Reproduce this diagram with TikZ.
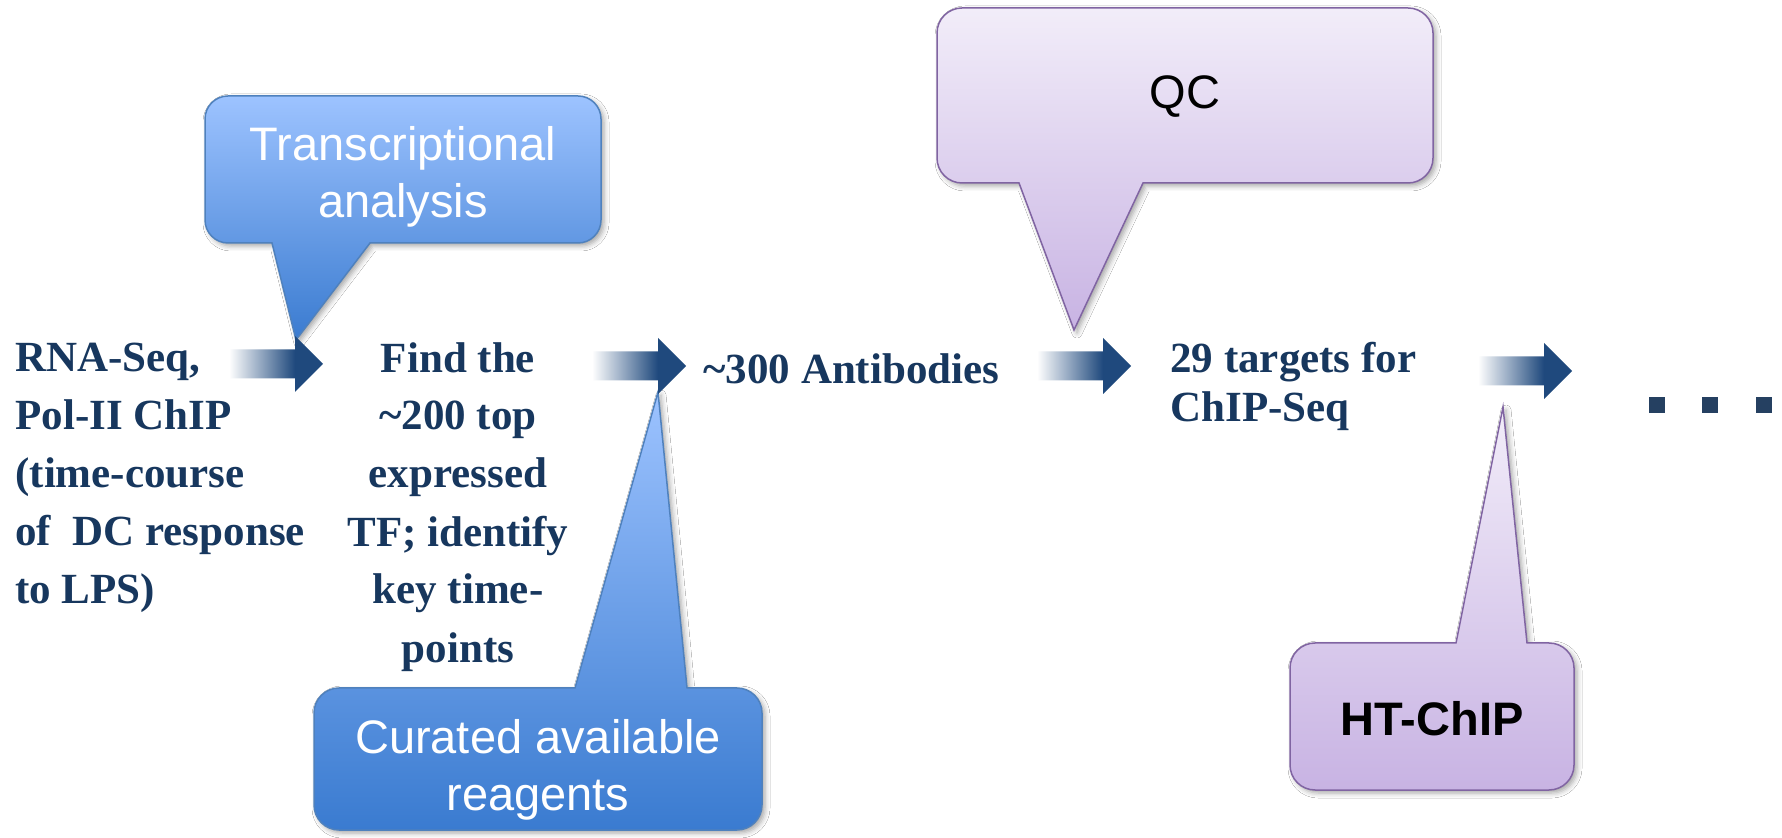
\documentclass[tikz,border=0pt]{standalone}
\usepackage{fontspec}
\setmainfont{Liberation Serif}
\setsansfont{Liberation Sans}
\usetikzlibrary{shadows.blur}

\definecolor{navytext}{HTML}{17375E}
\definecolor{arrowblue}{HTML}{1F497D}
\definecolor{dotblue}{HTML}{254061}
\definecolor{bluetop}{HTML}{9DC3FF}
\definecolor{bluebot}{HTML}{3A7BD0}
\definecolor{blueline}{HTML}{4F81BD}
\definecolor{lilactop}{HTML}{F2EDF9}
\definecolor{lilacbot}{HTML}{C8B3E3}
\definecolor{lilacline}{HTML}{8064A2}

% shaft fades in from white, head is solid
\pgfdeclarehorizontalshading{fadearrow}{100bp}{color(0bp)=(white); color(25bp)=(white); color(60bp)=(arrowblue); color(100bp)=(arrowblue)}

\tikzset{
  flowtext/.style={inner sep=0pt, text=navytext, font=\bfseries\fontsize{21.5}{29}\selectfont},
  calltext/.style={inner sep=0pt, align=center, font=\sffamily\fontsize{23.5}{28.5}\selectfont},
  callshadow/.style={blur shadow={shadow xshift=1.5pt, shadow yshift=-1.5pt, shadow blur radius=2.5pt, shadow opacity=35}},
  callblue/.style={callshadow, top color=bluetop, bottom color=bluebot, draw=blueline, line width=0.75pt},
  calllilac/.style={callshadow, top color=lilactop, bottom color=lilacbot, draw=lilacline, line width=0.75pt},
  blockarrow/.style={shading=fadearrow},
  dotsquare/.style={fill=dotblue}
}

% block arrow: left end of shaft at #1 (x, y centre)
\newcommand\flowarrow[1]{%
  \shade[blockarrow] (#1) ++(0,-14.5) -- ++(66,0) -- ++(0,-13.5) -- ++(28,28)
    -- ++(-28,28) -- ++(0,-13.5) -- ++(-66,0) -- cycle;}

\begin{document}
\begin{tikzpicture}[x=0.5pt, y=-0.5pt]
\useasboundingbox (0,0) rectangle (1782,838);
\fill[white] (0,0) rectangle (1782,838);

% ---- callouts -------------------------------------------------------
% Transcriptional analysis (pointer downwards)
\path[callblue] (272,243) -- (296,340) -- (370,243) -- (578,243)
  arc[start angle=90, end angle=0, radius=23] -- (601,119)
  arc[start angle=0, end angle=-90, radius=23] -- (228,96)
  arc[start angle=270, end angle=180, radius=23] -- (205,220)
  arc[start angle=180, end angle=90, radius=23] -- cycle;

% Curated available reagents (pointer upwards)
\path[callblue] (687,688) -- (658,392) -- (575,688) -- (339,688)
  arc[start angle=270, end angle=180, radius=25] -- (314,805)
  arc[start angle=180, end angle=90, radius=25] -- (737,830)
  arc[start angle=90, end angle=0, radius=25] -- (762,713)
  arc[start angle=0, end angle=-90, radius=25] -- cycle;

% QC (pointer downwards)
\path[calllilac] (1019,183) -- (1074,330) -- (1143,183) -- (1408,183)
  arc[start angle=90, end angle=0, radius=25] -- (1433,33)
  arc[start angle=0, end angle=-90, radius=25] -- (962,8)
  arc[start angle=270, end angle=180, radius=25] -- (937,158)
  arc[start angle=180, end angle=90, radius=25] -- cycle;

% HT-ChIP (pointer upwards)
\path[calllilac] (1527,643) -- (1503,407) -- (1456,643) -- (1315,643)
  arc[start angle=270, end angle=180, radius=25] -- (1290,765)
  arc[start angle=180, end angle=90, radius=25] -- (1549,790)
  arc[start angle=90, end angle=0, radius=25] -- (1574,668)
  arc[start angle=0, end angle=-90, radius=25] -- cycle;

\node[calltext, text=white] (trans) at (403,177) {Transcriptional\\analysis};
\node[calltext, text=white] (curated) at (538,770) {Curated available\\reagents};
\node[calltext, text=black] (qc) at (1185,97) {QC};
\node[calltext, text=black, font=\sffamily\bfseries\fontsize{23.5}{28}\selectfont] (htchip) at (1432,719) {HT-ChIP};

% ---- flow steps (base anchor = last line) ---------------------------
\node[flowtext, anchor=base west, align=left] (rnaseq) at (15,604)
  {RNA-Seq,\\Pol-II ChIP\\(time-course\\of\ \ DC response\\to LPS)};
\node[flowtext, anchor=base, align=center] (findtf) at (458,662)
  {Find the\\\textasciitilde200 top\\expressed\\TF; identify\\key time-\\points};
\node[flowtext, anchor=base west] (antibodies) at (703,384) {\textasciitilde300 Antibodies};
\node[flowtext, anchor=base west, align=left, font=\bfseries\fontsize{21.5}{24.5}\selectfont] (targets) at (1170,422)
  {29 targets for\\ChIP-Seq};

% ---- arrows between the steps ---------------------------------------
\coordinate (a1) at (229,364);
\coordinate (a2) at (592,366);
\coordinate (a3) at (1037,366);
\coordinate (a4) at (1478,371);
\flowarrow{a1}
\flowarrow{a2}
\flowarrow{a3}
\flowarrow{a4}

% ---- continuation dots ----------------------------------------------
\foreach \dx in {1649,1702,1756}
  \fill[dotsquare] (\dx,397) rectangle ++(16,16);

\end{tikzpicture}
\end{document}
